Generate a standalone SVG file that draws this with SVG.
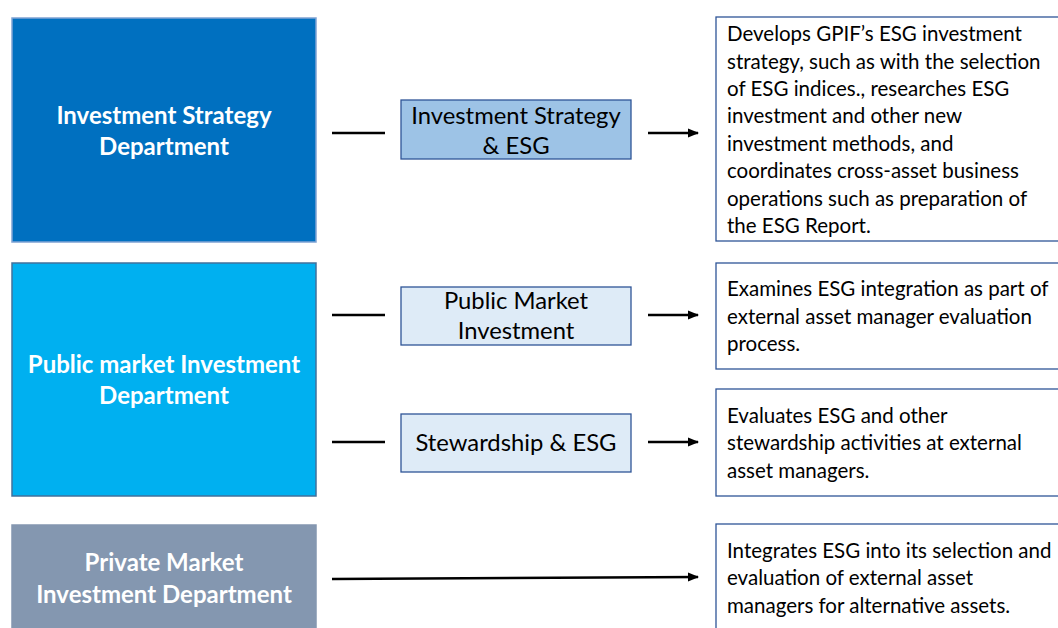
<svg xmlns="http://www.w3.org/2000/svg" width="1058" height="628" viewBox="0 0 1058 628">
<defs>
<style>
.dept{stroke-width:1.5}
.dt{font-family:Lato,"Open Sans",sans-serif;font-weight:bold;font-size:24px;fill:#fff;text-anchor:middle}
.mid{stroke:#2F5597;stroke-width:1.3}
.mt{font-family:Lato,"Open Sans",sans-serif;font-size:23.8px;fill:#000;text-anchor:middle}
.desc{fill:#fff;stroke:#2F5597;stroke-width:1.3}
.rt{font-family:Lato,"Open Sans",sans-serif;font-size:20.5px;fill:#000}
.ln{stroke:#000;stroke-width:2.5;fill:none}
</style>
<marker id="ah" viewBox="0 0 10 10" refX="9" refY="5" markerWidth="4.5" markerHeight="4.5" orient="auto" markerUnits="strokeWidth">
<path d="M0,1 L10,5 L0,9 z" fill="#000"/>
</marker>
</defs>
<rect width="1058" height="628" fill="#fff"/>

<g id="dept-strategy">
<rect class="dept" x="12" y="18" width="304" height="224" fill="#0070C0" stroke="#7FA3D4"/>
<text class="dt" x="164" y="124">Investment Strategy</text>
<text class="dt" x="164" y="155">Department</text>
</g>
<g id="dept-public">
<rect class="dept" x="12" y="263" width="304" height="233" fill="#00B0F0" stroke="#41719C"/>
<text class="dt" x="164" y="373">Public market Investment</text>
<text class="dt" x="164" y="404">Department</text>
</g>
<g id="dept-private">
<rect class="dept" x="12" y="525" width="304" height="110" fill="#8497B0" stroke="#8497B0"/>
<text class="dt" x="164" y="571">Private Market</text>
<text class="dt" x="164" y="603">Investment Department</text>
</g>

<g id="team-strategy">
<rect class="mid" x="401" y="100" width="230" height="59" fill="#9DC3E6"/>
<text class="mt" x="516" y="124">Investment Strategy</text>
<text class="mt" x="516" y="154">&amp; ESG</text>
</g>
<g id="team-public">
<rect class="mid" x="401" y="287" width="230" height="58" fill="#DEEBF7"/>
<text class="mt" x="516" y="309">Public Market</text>
<text class="mt" x="516" y="339">Investment</text>
</g>
<g id="team-stewardship">
<rect class="mid" x="401" y="414" width="230" height="58" fill="#DEEBF7"/>
<text class="mt" x="516" y="451">Stewardship &amp; ESG</text>
</g>

<g id="desc-strategy">
<rect class="desc" x="716" y="17" width="350" height="224"/>
<text class="rt" x="727" y="41">Develops GPIF’s ESG investment</text>
<text class="rt" x="727" y="69">strategy, such as with the selection</text>
<text class="rt" x="727" y="96">of ESG indices., researches ESG</text>
<text class="rt" x="727" y="123">investment and other new</text>
<text class="rt" x="727" y="151">investment methods, and</text>
<text class="rt" x="727" y="178">coordinates cross-asset business</text>
<text class="rt" x="727" y="206">operations such as preparation of</text>
<text class="rt" x="727" y="233">the ESG Report.</text>
</g>
<g id="desc-public">
<rect class="desc" x="716" y="263" width="350" height="106"/>
<text class="rt" x="727" y="296">Examines ESG integration as part of</text>
<text class="rt" x="727" y="324">external asset manager evaluation</text>
<text class="rt" x="727" y="351">process.</text>
</g>
<g id="desc-stewardship">
<rect class="desc" x="716" y="389" width="350" height="107"/>
<text class="rt" x="727" y="423">Evaluates ESG and other</text>
<text class="rt" x="727" y="450">stewardship activities at external</text>
<text class="rt" x="727" y="478">asset managers.</text>
</g>
<g id="desc-private">
<rect class="desc" x="716" y="524" width="350" height="110"/>
<text class="rt" x="727" y="558">Integrates ESG into its selection and</text>
<text class="rt" x="727" y="585">evaluation of external asset</text>
<text class="rt" x="727" y="613">managers for alternative assets.</text>
</g>

<g id="connectors">
<line class="ln" x1="332" y1="133" x2="385" y2="133"/>
<line class="ln" x1="648" y1="133" x2="698" y2="133" marker-end="url(#ah)"/>
<line class="ln" x1="332" y1="315" x2="385" y2="315"/>
<line class="ln" x1="648" y1="315" x2="698" y2="315" marker-end="url(#ah)"/>
<line class="ln" x1="332" y1="442" x2="385" y2="442"/>
<line class="ln" x1="648" y1="442" x2="698" y2="442" marker-end="url(#ah)"/>
<line class="ln" x1="332" y1="579" x2="698" y2="577" marker-end="url(#ah)"/>
</g>
</svg>
